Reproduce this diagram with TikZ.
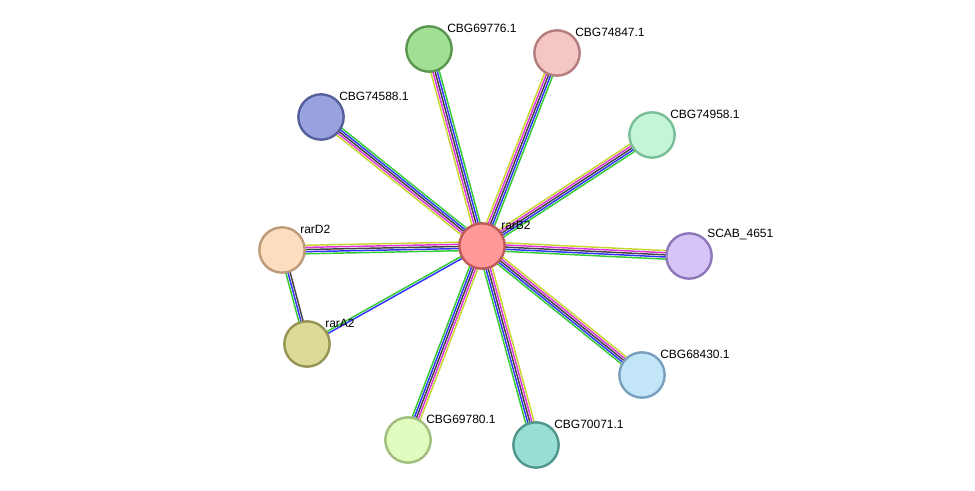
\documentclass[tikz,border=0pt]{standalone}
\usepackage{fontspec}
\setmainfont{Liberation Sans}
\usetikzlibrary{calc}
\definecolor{eGreen}{HTML}{33CC33}
\definecolor{eBlue}{HTML}{3333FF}
\definecolor{eBlack}{HTML}{444444}
\definecolor{eMagenta}{HTML}{DD33DD}
\definecolor{eYellow}{HTML}{C8D630}
\tikzstyle{protein}=[circle,minimum size=34pt,inner sep=0pt,line width=1.8pt]
\tikzstyle{lbl}=[anchor=south west,inner sep=0pt,font=\fontsize{9pt}{10pt}\selectfont]
\tikzstyle{link}=[line width=1.1pt]
% draw a bundle of parallel lines between two nodes
\newcommand{\bundle}[3]{%
  \foreach \col [count=\k] in #3 {
    \pgfmathsetmacro{\off}{(\k-1)*1.6-0.8*(\lenof-1)}
    \draw [style=link,draw=\col] ($(#1)!\off pt!90:(#2)$) -- ($(#2)!\off pt!-90:(#1)$);
  }}
\newcommand{\five}{eGreen,eBlue,eBlack,eMagenta,eYellow}
\newcommand{\two}{eGreen,eBlue}
\newcommand{\three}{eGreen,eBlue,eBlack}
\begin{document}
\begin{tikzpicture}[x=0.75pt,y=-0.75pt]
	\useasboundingbox (0,0) rectangle (975,491);
	\coordinate (B) at (482,246);
	\coordinate (n1) at (429,49);
	\coordinate (n2) at (557,53);
	\coordinate (n3) at (321,117);
	\coordinate (n4) at (652,135);
	\coordinate (n5) at (689,256);
	\coordinate (n6) at (282,250);
	\coordinate (n7) at (307,344);
	\coordinate (n8) at (642,375);
	\coordinate (n9) at (408,440);
	\coordinate (n10) at (536,445);
	% edges
	\def\lenof{5}
	\foreach \t in {n1,n2,n3,n4,n5,n8,n9,n10} {\bundle{B}{\t}{\five}}
	\bundle{n6}{B}{\five}
	\def\lenof{2}
	\bundle{B}{n7}{\two}
	\def\lenof{3}
	\bundle{n6}{n7}{\three}
	% nodes
	\node [style=protein,fill={rgb,255:red,255;green,153;blue,153},draw={rgb,255:red,190;green,90;blue,90}] (rarB2) at (B) {};
	\node [style=protein,fill={rgb,255:red,160;green,223;blue,148},draw={rgb,255:red,90;green,150;blue,80}] (c69776) at (n1) {};
	\node [style=protein,fill={rgb,255:red,245;green,198;blue,198},draw={rgb,255:red,180;green,125;blue,125}] (c74847) at (n2) {};
	\node [style=protein,fill={rgb,255:red,152;green,162;blue,222},draw={rgb,255:red,85;green,95;blue,155}] (c74588) at (n3) {};
	\node [style=protein,fill={rgb,255:red,197;green,245;blue,216},draw={rgb,255:red,120;green,190;blue,150}] (c74958) at (n4) {};
	\node [style=protein,fill={rgb,255:red,215;green,196;blue,247},draw={rgb,255:red,140;green,120;blue,185}] (scab) at (n5) {};
	\node [style=protein,fill={rgb,255:red,253;green,221;blue,192},draw={rgb,255:red,190;green,155;blue,120}] (rarD2) at (n6) {};
	\node [style=protein,fill={rgb,255:red,220;green,218;blue,151},draw={rgb,255:red,150;green,148;blue,85}] (rarA2) at (n7) {};
	\node [style=protein,fill={rgb,255:red,194;green,230;blue,248},draw={rgb,255:red,120;green,160;blue,190}] (c68430) at (n8) {};
	\node [style=protein,fill={rgb,255:red,225;green,251;blue,192},draw={rgb,255:red,160;green,190;blue,125}] (c69780) at (n9) {};
	\node [style=protein,fill={rgb,255:red,153;green,222;blue,213},draw={rgb,255:red,80;green,150;blue,140}] (c70071) at (n10) {};
	% labels
	\node [style=lbl] at ($(rarB2)+(19,-16)$) {rarB2};
	\node [style=lbl] at ($(c69776)+(18,-16)$) {CBG69776.1};
	\node [style=lbl] at ($(c74847)+(18,-16)$) {CBG74847.1};
	\node [style=lbl] at ($(c74588)+(18,-16)$) {CBG74588.1};
	\node [style=lbl] at ($(c74958)+(18,-16)$) {CBG74958.1};
	\node [style=lbl] at ($(scab)+(18,-16)$) {SCAB\_4651};
	\node [style=lbl] at ($(rarD2)+(18,-16)$) {rarD2};
	\node [style=lbl] at ($(rarA2)+(18,-16)$) {rarA2};
	\node [style=lbl] at ($(c68430)+(18,-16)$) {CBG68430.1};
	\node [style=lbl] at ($(c69780)+(18,-16)$) {CBG69780.1};
	\node [style=lbl] at ($(c70071)+(18,-16)$) {CBG70071.1};
\end{tikzpicture}
\end{document}
